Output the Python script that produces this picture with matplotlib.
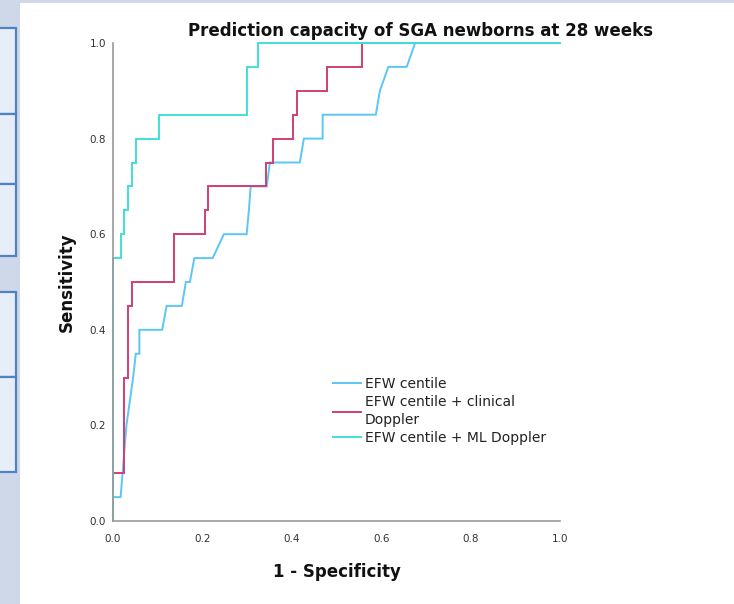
import matplotlib
matplotlib.use("Agg")
import matplotlib.pyplot as plt
from matplotlib.patches import Rectangle

# ---- data ----
efw_fpr = [0.0, 0.0, 0.017, 0.03, 0.045, 0.051, 0.059, 0.059, 0.110, 0.120, 0.154, 0.163, 0.172, 0.182,
           0.223, 0.248, 0.299, 0.304, 0.308, 0.344, 0.351, 0.418, 0.427, 0.469, 0.469, 0.588, 0.597,
           0.616, 0.657, 0.676, 1.0]
efw_tpr = [0.0, 0.05, 0.05, 0.2, 0.3, 0.35, 0.35, 0.4, 0.4, 0.45, 0.45, 0.5, 0.5, 0.55,
           0.55, 0.6, 0.6, 0.65, 0.7, 0.7, 0.75, 0.75, 0.8, 0.8, 0.85, 0.85, 0.9,
           0.95, 0.95, 1.0, 1.0]

clin_fpr = [0.0, 0.0, 0.025, 0.025, 0.034, 0.034, 0.042, 0.042, 0.136, 0.136, 0.206, 0.206, 0.213, 0.213,
            0.342, 0.342, 0.359, 0.359, 0.402, 0.402, 0.411, 0.411, 0.478, 0.478, 0.556, 0.556, 1.0]
clin_tpr = [0.0, 0.1, 0.1, 0.3, 0.3, 0.45, 0.45, 0.5, 0.5, 0.6, 0.6, 0.65, 0.65, 0.7,
            0.7, 0.75, 0.75, 0.8, 0.8, 0.85, 0.85, 0.9, 0.9, 0.95, 0.95, 1.0, 1.0]

ml_fpr = [0.0, 0.0, 0.017, 0.017, 0.025, 0.025, 0.034, 0.034, 0.043, 0.043, 0.051, 0.051, 0.103, 0.103,
          0.299, 0.299, 0.325, 0.325, 1.0]
ml_tpr = [0.0, 0.55, 0.55, 0.6, 0.6, 0.65, 0.65, 0.7, 0.7, 0.75, 0.75, 0.8, 0.8, 0.85,
          0.85, 0.95, 0.95, 1.0, 1.0]

labels = ["EFW centile", "EFW centile + clinical\nDoppler", "EFW centile + ML Doppler"]
colors = ["#5cc6f4", "#cf3f74", "#40e0d6"]
ticks = [0.0, 0.2, 0.4, 0.6, 0.8, 1.0]
tick_labels = ["0.0", "0.2", "0.4", "0.6", "0.8", "1.0"]
title = "Prediction capacity of SGA newborns at 28 weeks"

W, H = 734, 604
fig = plt.figure(figsize=(W / 100, H / 100), dpi=100)
fig.patch.set_facecolor("white")

# background frame (slide-like surroundings)
bg = "#cfd8e8"
fig.patches.append(Rectangle((0, 0), 20 / W, 1, transform=fig.transFigure, facecolor=bg, edgecolor="none", zorder=0))
fig.patches.append(Rectangle((0, 1 - 3 / H), 1, 3 / H, transform=fig.transFigure, facecolor=bg, edgecolor="none", zorder=0))
for (y0, y1) in [(28, 114), (114, 184), (184, 256), (292, 377), (377, 472)]:
    fig.patches.append(Rectangle((-5 / W, 1 - y1 / H), 21 / W, (y1 - y0) / H, transform=fig.transFigure,
                                 facecolor="#e8eef8", edgecolor="#4f81c4", linewidth=1.6, zorder=1))

ax = fig.add_axes([113 / W, 1 - 521 / H, (560 - 113) / W, (521 - 43) / H])
ax.set_xlim(0, 1)
ax.set_ylim(0, 1)

series = [(efw_fpr, efw_tpr), (clin_fpr, clin_tpr), (ml_fpr, ml_tpr)]
for (xs, ys), lab, c in zip(series, labels, colors):
    ax.plot(xs, ys, color=c, lw=1.4, label=lab, clip_on=False, solid_joinstyle="miter")

for s in ["top", "right"]:
    ax.spines[s].set_visible(False)
for s in ["left", "bottom"]:
    ax.spines[s].set_color("#9a9a9a")
    ax.spines[s].set_linewidth(1.2)

ax.set_xticks(ticks)
ax.set_xticklabels(tick_labels)
ax.set_yticks(ticks)
ax.set_yticklabels(tick_labels)
ax.tick_params(length=0, labelsize=7.5, colors="#333333")
ax.tick_params(axis="y", pad=5)
ax.tick_params(axis="x", pad=9)

ax.set_xlabel("1 - Specificity", fontsize=12, fontweight="bold", color="#111111", labelpad=14)
ax.set_ylabel("Sensitivity", fontsize=12, fontweight="bold", color="#111111", labelpad=10)

fig.text(420 / W, 1 - 31 / H, title, ha="center", va="center", fontsize=12, fontweight="bold", color="#111111")

leg = ax.legend(loc="upper left", bbox_to_anchor=((333 - 113) / 447, (521 - 377) / 478), frameon=False,
                fontsize=10, handlelength=2.0, handletextpad=0.3, labelspacing=0.3, borderpad=0,
                borderaxespad=0)
for t in leg.get_texts():
    t.set_color("#222222")
    t.set_linespacing(1.35)

fig.savefig("out.png", dpi=100, facecolor=fig.get_facecolor())
